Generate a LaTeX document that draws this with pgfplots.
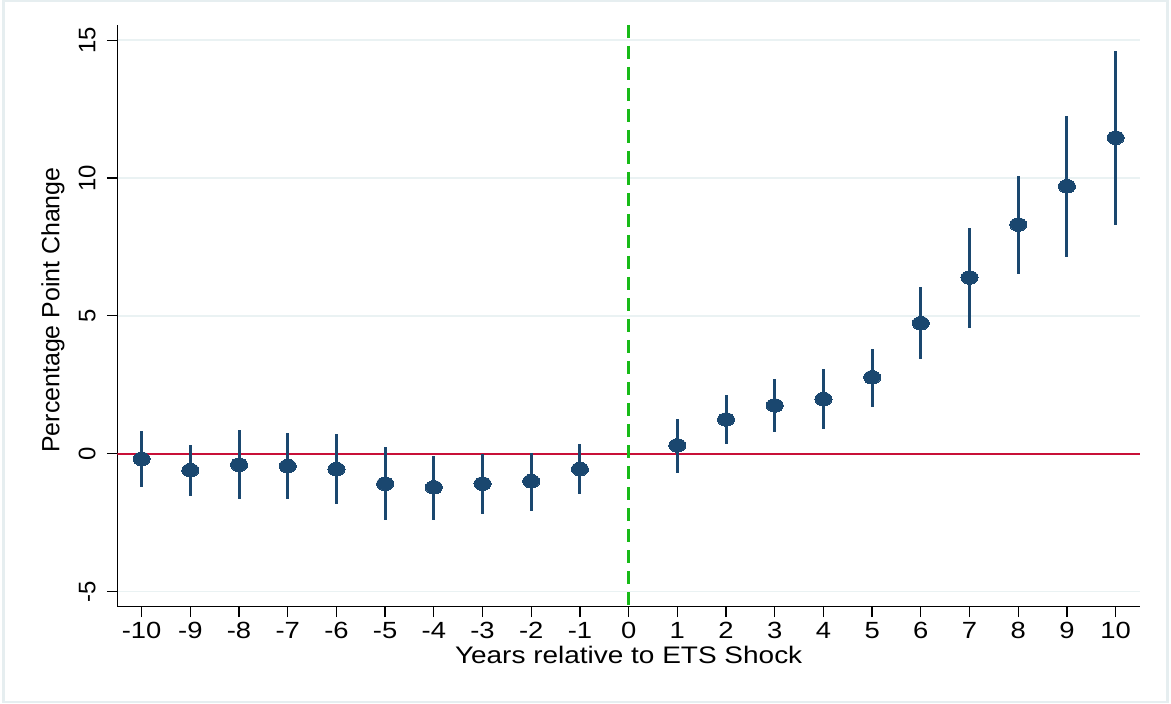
\documentclass[border=0pt]{standalone}
\usepackage{pgfplots}
\pgfplotsset{compat=1.18}
\usepackage{pgfplotstable}
\usepackage{fontspec}
\setmainfont{Liberation Sans}
\newfontfamily\hfont[FakeStretch=1.17]{Liberation Sans}
\definecolor{navy}{HTML}{1A476F}
\definecolor{cranb}{RGB}{200,16,56}
\definecolor{vgreen}{RGB}{24,186,24}
\definecolor{gridc}{HTML}{EAF2F3}
\definecolor{framec}{HTML}{E6EEF0}

\pgfplotstableread{
x y lo hi
-10 -0.19 -1.22 0.81
-9 -0.60 -1.55 0.31
-8 -0.40 -1.64 0.85
-7 -0.45 -1.64 0.75
-6 -0.56 -1.82 0.72
-5 -1.09 -2.42 0.23
-4 -1.22 -2.42 -0.07
-3 -1.09 -2.17 0.00
-2 -1.00 -2.08 0.02
-1 -0.56 -1.45 0.35
1 0.30 -0.69 1.27
2 1.24 0.36 2.13
3 1.75 0.79 2.72
4 1.98 0.91 3.07
5 2.77 1.68 3.80
6 4.73 3.43 6.04
7 6.39 4.55 8.20
8 8.31 6.53 10.09
9 9.70 7.14 12.25
10 11.46 8.31 14.59
}\est

\begin{document}
\begin{tikzpicture}
\useasboundingbox (0,0) rectangle (1171bp,704bp);
\draw[framec, line width=2.5bp] (3.5bp,2bp) rectangle (1167.5bp,703bp);
\begin{axis}[
  at={(117.3bp,97.3bp)}, anchor=south west,
  scale only axis, width=1022.7bp, height=581.7bp,
  xmin=-10.5, xmax=10.5, ymin=-5.55, ymax=15.55,
  axis lines=left,
  axis line style={-, line width=1.3bp, black},
  xtick={-10,-9,-8,-7,-6,-5,-4,-3,-2,-1,0,1,2,3,4,5,6,7,8,9,10},
  xticklabels={-10,-9,-8,-7,-6,-5,-4,-3,-2,-1,0,1,2,3,4,5,6,7,8,9,10},
  ytick={-5,0,5,10,15},
  yticklabels={-5,0,5,10,15},
  tick align=outside,
  major tick length=10.5bp,
  every tick/.style={black, line width=1.3bp},
  ymajorgrids,
  grid style={line width=1.5bp, gridc},
  xticklabel shift=5bp,
  yticklabel shift=11bp,
  xticklabel style={font=\hfont\fontsize{23.5}{23.5}\selectfont, anchor=north, inner sep=0pt},
  yticklabel style={font=\fontsize{24}{24}\selectfont, rotate=90, anchor=south, inner sep=0pt},
  every axis x label/.style={at={(axis description cs:0.5,-0.098)}, anchor=base, font=\hfont\fontsize{24}{24}\selectfont},
  every axis y label/.style={at={(axis description cs:-0.0567,0.51)}, rotate=90, anchor=base, font=\fontsize{25}{25}\selectfont},
  xlabel={Years relative to ETS Shock},
  ylabel={Percentage Point Change},
]
\addplot[cranb, line width=2bp] coordinates {(-10.5,0) (10.5,0)};
\addplot[vgreen, line width=2.5bp, dash pattern=on 13bp off 8bp] coordinates {(0,15.55) (0,-5.55)};
\addplot[only marks, mark=*, mark size=6.8bp,
  mark options={xscale=1.26, fill=navy, draw=navy, line width=0pt},
  error bars/.cd, y dir=both, y explicit,
  error bar style={line width=3bp, navy}, error mark=none]
  table[x=x, y=y, y error plus expr=\thisrow{hi}-\thisrow{y}, y error minus expr=\thisrow{y}-\thisrow{lo}] {\est};
\end{axis}
\end{tikzpicture}
\end{document}
